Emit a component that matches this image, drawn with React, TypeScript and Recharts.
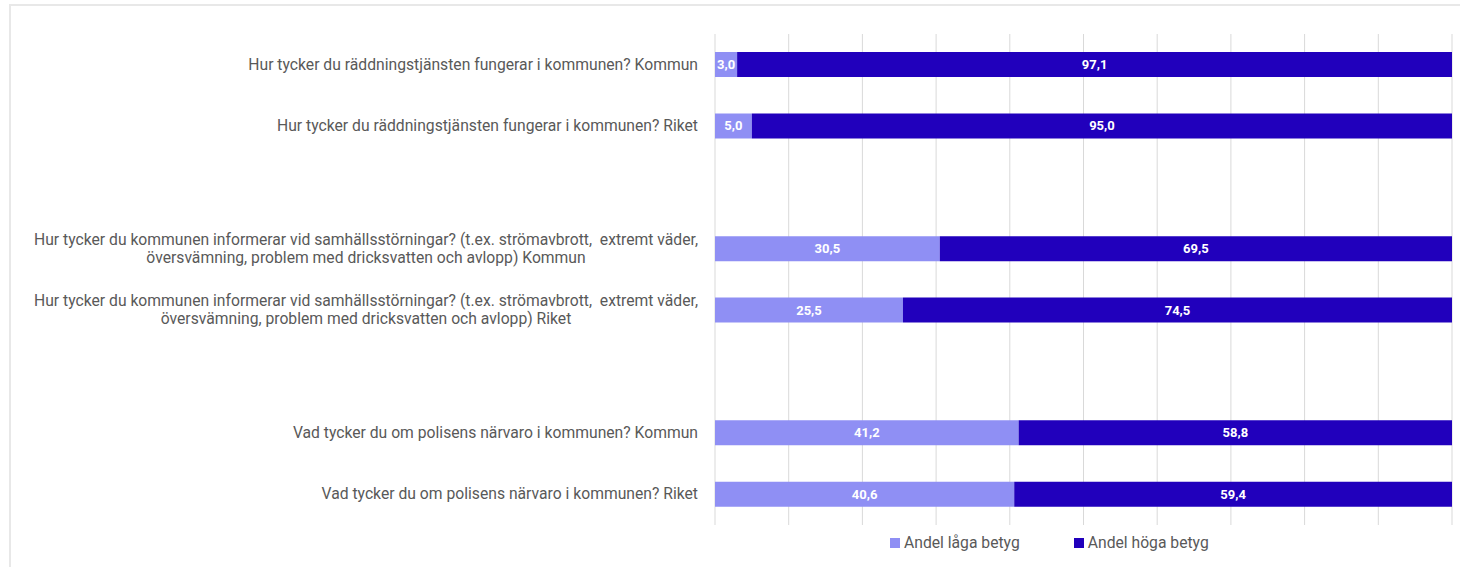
import React from "react";
import { BarChart, Bar, XAxis, YAxis, CartesianGrid, Legend, LabelList } from "recharts";

// question labels, "\n" marks the line break; blank entries are spacer rows
const categories = [
  "Hur tycker du räddningstjänsten fungerar i kommunen? Kommun",
  "Hur tycker du räddningstjänsten fungerar i kommunen? Riket",
  " ",
  "Hur tycker du kommunen informerar vid samhällsstörningar? (t.ex. strömavbrott,  extremt väder,\növersvämning, problem med dricksvatten och avlopp) Kommun",
  "Hur tycker du kommunen informerar vid samhällsstörningar? (t.ex. strömavbrott,  extremt väder,\növersvämning, problem med dricksvatten och avlopp) Riket",
  "  ",
  "Vad tycker du om polisens närvaro i kommunen? Kommun",
  "Vad tycker du om polisens närvaro i kommunen? Riket",
];

const lowShare: (number | null)[] = [3.0, 5.0, null, 30.5, 25.5, null, 41.2, 40.6];
const highShare: (number | null)[] = [97.1, 95.0, null, 69.5, 74.5, null, 58.8, 59.4];

const xTicks = [0, 10, 20, 30, 40, 50, 60, 70, 80, 90, 100];

const LOW_COLOR = "#8f8ff4";
const HIGH_COLOR = "#2100bc";
const TEXT_COLOR = "#595959";
const FONT = "Roboto, 'Noto Sans', sans-serif";
const LABEL_SIZE = 15.7;

const data = categories.map((name, i) => ({
  name,
  low: lowShare[i],
  high: highShare[i],
}));

let measureCtx: CanvasRenderingContext2D | null = null;
function textWidth(s: string) {
  if (!measureCtx) {
    measureCtx = document.createElement("canvas").getContext("2d");
  }
  if (!measureCtx) return s.length * 7.7;
  measureCtx.font = `${LABEL_SIZE}px ${FONT}`;
  return measureCtx.measureText(s).width;
}

const CategoryTick = (props: any) => {
  const { x, y, payload } = props;
  const lines: string[] = String(payload.value).split("\n");
  if (lines.length === 1) {
    return (
      <text x={x} y={y} dy={5} textAnchor="end" fontSize={LABEL_SIZE} fontFamily={FONT} fill={TEXT_COLOR}>
        {lines[0]}
      </text>
    );
  }
  // block is right aligned, lines centred inside it
  const maxW = Math.max(...lines.map(textWidth));
  const cx = x - maxW / 2;
  const lineH = 17.5;
  const startY = y - ((lines.length - 1) * lineH) / 2 + 5;
  return (
    <text
      textAnchor="middle"
      fontSize={LABEL_SIZE}
      fontFamily={FONT}
      fill={TEXT_COLOR}
      style={{ whiteSpace: "pre" }}
    >
      {lines.map((l, i) => (
        <tspan key={i} x={cx} y={startY + i * lineH}>
          {l}
        </tspan>
      ))}
    </text>
  );
};

const fmt = (v: any) => (v == null ? "" : Number(v).toFixed(1).replace(".", ","));

const LegendContent = () => (
  <div style={{ display: "flex", gap: 54, fontFamily: FONT, fontSize: LABEL_SIZE, color: TEXT_COLOR }}>
    {[
      { label: "Andel låga betyg", color: LOW_COLOR },
      { label: "Andel höga betyg", color: HIGH_COLOR },
    ].map((item) => (
      <div key={item.label} style={{ display: "flex", alignItems: "center", gap: 4 }}>
        <span style={{ width: 10, height: 10, background: item.color, display: "inline-block" }} />
        <span>{item.label}</span>
      </div>
    ))}
  </div>
);

export default function App() {
  return (
    <div style={{ position: "absolute", left: 0, top: 0, width: 1460, height: 567, overflow: "hidden", background: "#fff" }}>
      {/* outer frame of the report panel */}
      <div
        style={{
          position: "absolute",
          left: 9,
          top: 4,
          width: 1470,
          height: 620,
          border: "2px solid #e8e8e8",
          boxSizing: "border-box",
        }}
      />
      <div style={{ position: "absolute", left: 0, top: 0 }}>
        <BarChart
          width={1460}
          height={567}
          data={data}
          layout="vertical"
          barSize={25}
          margin={{ top: 34, right: 8, bottom: 42, left: 0 }}
        >
          <CartesianGrid horizontal={false} vertical stroke="#d9d9d9" />
          <XAxis type="number" domain={[0, 100]} ticks={xTicks} allowDataOverflow hide />
          <YAxis
            type="category"
            dataKey="name"
            width={715}
            axisLine={false}
            tickLine={false}
            tickSize={0}
            tickMargin={17}
            interval={0}
            tick={<CategoryTick />}
          />
          <Legend
            verticalAlign="middle"
            align="center"
            layout="horizontal"
            content={<LegendContent />}
            wrapperStyle={{ top: 533, left: 890, width: "auto" }}
          />
          <Bar dataKey="low" stackId="a" fill={LOW_COLOR} name="Andel låga betyg" isAnimationActive={false}>
            <LabelList
              dataKey="low"
              position="center"
              formatter={fmt}
              fill="#ffffff"
              fontSize={13}
              fontWeight="bold"
              fontFamily="Roboto, sans-serif"
            />
          </Bar>
          <Bar dataKey="high" stackId="a" fill={HIGH_COLOR} name="Andel höga betyg" isAnimationActive={false}>
            <LabelList
              dataKey="high"
              position="center"
              formatter={fmt}
              fill="#ffffff"
              fontSize={13}
              fontWeight="bold"
              fontFamily="Roboto, sans-serif"
            />
          </Bar>
        </BarChart>
      </div>
    </div>
  );
}
